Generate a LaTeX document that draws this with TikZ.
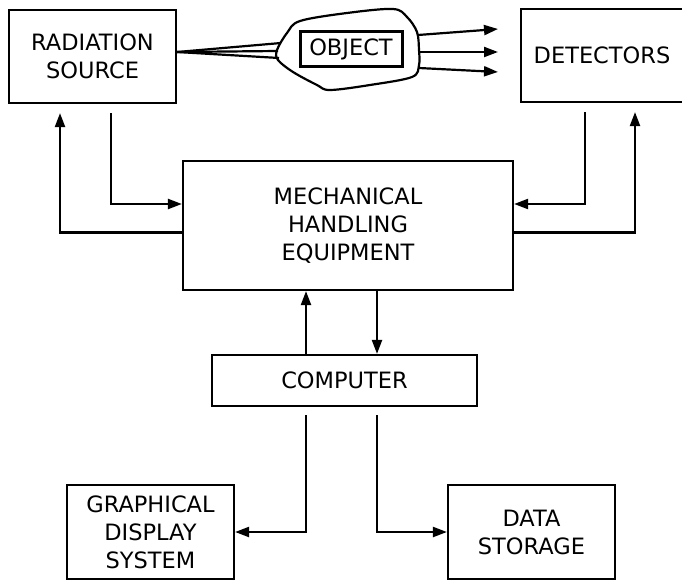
\documentclass[tikz,border=0pt]{standalone}
\usepackage{fontspec}
\setmainfont{DejaVu Sans}
\usetikzlibrary{arrows.meta}

\begin{document}
\begin{tikzpicture}[x=1pt, y=-1pt,
        box/.style={draw, line width=2.2pt, align=center, inner sep=0pt,
            font=\fontsize{22.5}{28}\selectfont},
        wire/.style={line width=2.2pt},
        arr/.style={line width=2.2pt, -{Triangle[length=14pt, width=10pt]}}]

        \useasboundingbox (0, 0) rectangle (682, 580);

        \node (src) at (92.5, 56.5) [box, minimum width=167pt, minimum height=93pt] {RADIATION\\SOURCE};
        \node (det) at (602, 55.5) [box, minimum width=162pt, minimum height=93pt] {DETECTORS};

        \node (mech) at (348, 225.5) [box, minimum width=330pt, minimum height=129pt] {MECHANICAL\\HANDLING\\EQUIPMENT};
        \node (comp) at (344.5, 380.5) [box, minimum width=265pt, minimum height=51pt] {COMPUTER};

        \node (gds) at (150.5, 532) [box, minimum width=167pt, minimum height=94pt] {GRAPHICAL\\DISPLAY\\SYSTEM};
        \node (data) at (531.5, 532) [box, minimum width=167pt, minimum height=94pt] {DATA\\STORAGE};

        % object in the beam
        \draw[wire] plot[smooth cycle, tension=0.55] coordinates {(300, 21) (347, 13) (393, 9) (407, 17)
            (417, 32) (419, 50) (419, 65) (412, 77) (370, 85) (330, 90) (317, 85) (293, 72)
            (278, 60) (277, 50) (287, 33)};
        \node (obj) at (351, 49.5) [box, line width=3pt, minimum width=102pt, minimum height=35pt] {OBJECT};

        \coordinate (in-1) at (281, 43);
        \coordinate (in-2) at (278, 51);
        \coordinate (in-3) at (279, 58);
        \coordinate (out-1) at (418, 35);
        \coordinate (out-2) at (420, 52);
        \coordinate (out-3) at (419, 68);
        \coordinate (hit-1) at (498, 29);
        \coordinate (hit-2) at (498, 52);
        \coordinate (hit-3) at (498, 72);

        \draw[wire] ([yshift=4.5pt]src.east) -- (in-1);
        \draw[wire] ([yshift=4.5pt]src.east) -- (in-2);
        \draw[wire] ([yshift=4.5pt]src.east) -- (in-3);
        \draw[arr] (out-1) -- (hit-1);
        \draw[arr] (out-2) -- (hit-2);
        \draw[arr] (out-3) -- (hit-3);

        \draw[arr] ([yshift=-7pt]mech.west) -| ([xshift=-32.5pt, yshift=-9pt]src.south);
        \draw[arr] ([xshift=18.5pt, yshift=-9pt]src.south) |- ([yshift=21.5pt]mech.west);
        \draw[arr] ([xshift=-17pt, yshift=-9pt]det.south) |- ([yshift=21.5pt]mech.east);
        \draw[arr] ([yshift=-7pt]mech.east) -| ([xshift=33pt, yshift=-9pt]det.south);

        \draw[arr] ([xshift=-38.5pt]comp.north) -- ([xshift=-38.5pt]comp.north |- mech.south);
        \draw[arr] ([xshift=32.5pt]comp.north |- mech.south) -- ([xshift=32.5pt]comp.north);

        \draw[arr] ([xshift=-38.5pt, yshift=-8pt]comp.south) |- (gds.east);
        \draw[arr] ([xshift=32.5pt, yshift=-8pt]comp.south) |- (data.west);

\end{tikzpicture}
\end{document}
